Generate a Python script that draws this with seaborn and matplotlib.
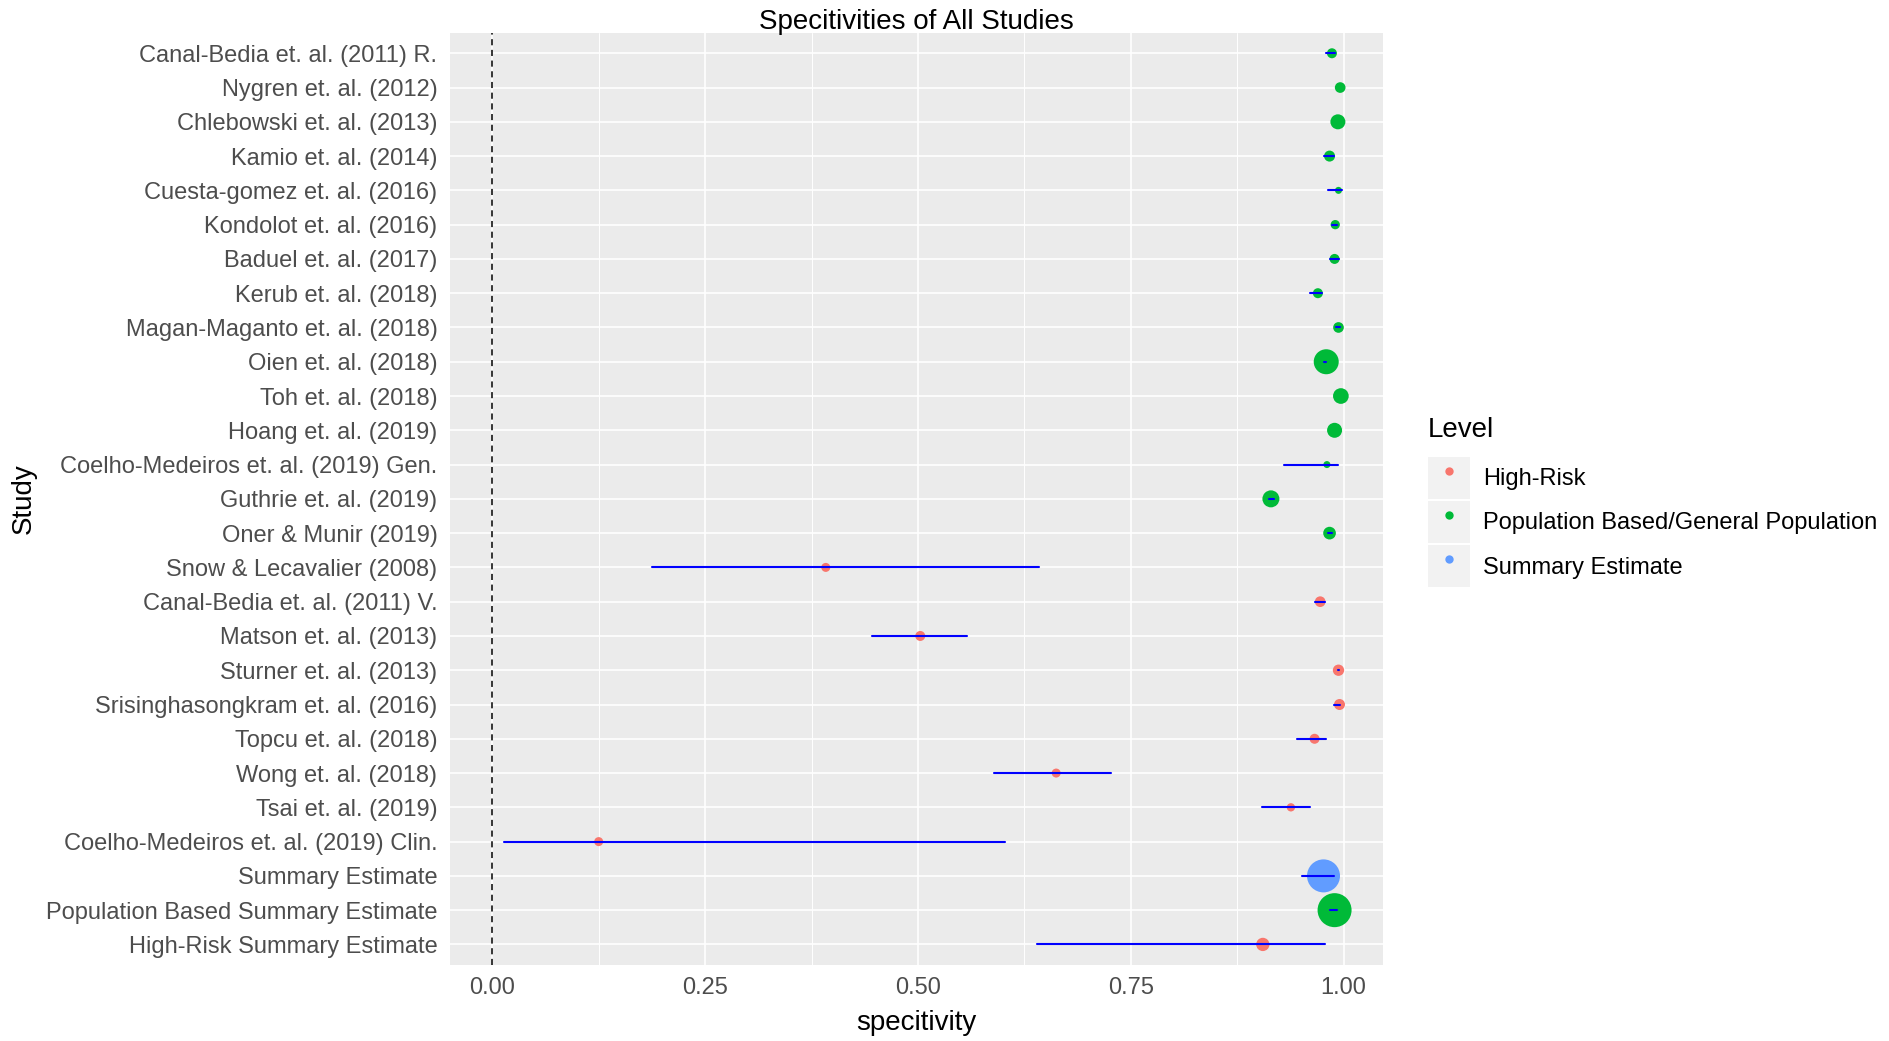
import matplotlib
matplotlib.use("Agg")
import matplotlib.pyplot as plt
from matplotlib.lines import Line2D
from matplotlib.patches import Rectangle
from matplotlib.legend_handler import HandlerTuple
import seaborn as sns
import pandas as pd

studies = [
    "Canal-Bedia et. al. (2011) R.", "Nygren et. al. (2012)", "Chlebowski et. al. (2013)",
    "Kamio et. al. (2014)", "Cuesta-gomez et. al. (2016)", "Kondolot et. al. (2016)",
    "Baduel et. al. (2017)", "Kerub et. al. (2018)", "Magan-Maganto et. al. (2018)",
    "Oien et. al. (2018)", "Toh et. al. (2018)", "Hoang et. al. (2019)",
    "Coelho-Medeiros et. al. (2019) Gen.", "Guthrie et. al. (2019)", "Oner & Munir (2019)",
    "Snow & Lecavalier (2008)", "Canal-Bedia et. al. (2011) V.", "Matson et. al. (2013)",
    "Sturner et. al. (2013)", "Srisinghasongkram et. al. (2016)", "Topcu et. al. (2018)",
    "Wong et. al. (2018)", "Tsai et. al. (2019)", "Coelho-Medeiros et. al. (2019) Clin.",
    "Summary Estimate", "Population Based Summary Estimate", "High-Risk Summary Estimate",
]
specificity = [0.9864, 0.9961, 0.9934, 0.9836, 0.9941, 0.9903, 0.9895, 0.9699, 0.9941,
               0.9797, 0.9969, 0.9895, 0.9805, 0.9147, 0.9836,
               0.3917, 0.9726, 0.5027, 0.9941, 0.9953, 0.9660, 0.6624, 0.9382, 0.1249,
               0.9765, 0.9895, 0.9052]
lower = [0.9797, 0.9955, 0.9930, 0.9773, 0.9812, 0.9864, 0.9836, 0.9610, 0.9910,
         0.9773, 0.9966, 0.9900, 0.9295, 0.9120, 0.9815,
         0.1879, 0.9660, 0.4456, 0.9930, 0.9883, 0.9452, 0.5890, 0.9048, 0.0134,
         0.9518, 0.9836, 0.6400]
upper = [0.9903, 0.9962, 0.9936, 0.9883, 0.9981, 0.9923, 0.9946, 0.9746, 0.9960,
         0.9790, 0.9970, 0.9905, 0.9941, 0.9180, 0.9865,
         0.6421, 0.9777, 0.5576, 0.9945, 0.9953, 0.9789, 0.7274, 0.9609, 0.6025,
         0.9894, 0.9922, 0.9785]
level = (["Population Based/General Population"] * 15 + ["High-Risk"] * 9 +
         ["Summary Estimate", "Population Based/General Population", "High-Risk"])
weight = [100, 114, 225, 121, 49, 86, 100, 100, 114, 625, 246, 225, 49, 289, 161,
          81, 114, 100, 128, 121, 100, 81, 69, 81, 1089, 1156, 177]
level_names = ["High-Risk", "Population Based/General Population", "Summary Estimate"]
level_colors = ["#F8766D", "#00BA38", "#619CFF"]
x_ticks = [0.00, 0.25, 0.50, 0.75, 1.00]
x_tick_labels = ["0.00", "0.25", "0.50", "0.75", "1.00"]

df = pd.DataFrame({"study": studies, "specitivity": specificity, "lower": lower,
                   "upper": upper, "Level": level, "weight": weight})

sns.set_theme(style="white")
plt.rcParams["font.family"] = ["Liberation Sans", "DejaVu Sans"]

W, H = 1890, 1041
fig = plt.figure(figsize=(W / 100, H / 100), dpi=100)
ax = fig.add_axes([450 / W, 1 - 965 / H, 933 / W, (965 - 32.7) / H])
ax.set_facecolor("#EBEBEB")

palette = dict(zip(level_names, level_colors))
px2 = 0.72 ** 2
sns.scatterplot(data=df, x="specitivity", y="study", hue="Level", size="weight",
                sizes=(0, 1200 * px2), size_norm=(0, 1200), palette=palette,
                linewidth=0, legend=False, ax=ax, zorder=3, alpha=1)
lc = ax.hlines(df["study"], df["lower"], df["upper"], colors="#0000FF",
               linewidth=1.5, zorder=4)
lc.set_capstyle("round")
ax.axvline(0, color="black", linewidth=1.1, linestyle=(0, (4, 3)), zorder=2.5)

ax.set_xlim(-0.0498, 1.0464)
ax.set_ylim(len(studies) - 1 + 0.6, -0.6)
ax.set_xticks(x_ticks)
ax.set_xticklabels(x_tick_labels)
ax.set_xticks([0.125, 0.375, 0.625, 0.875], minor=True)
ax.grid(True, which="major", color="white", linewidth=1.2)
ax.grid(True, which="minor", axis="x", color="white", linewidth=0.7)
ax.set_axisbelow(True)
for s in ax.spines.values():
    s.set_visible(False)
ax.tick_params(axis="both", which="major", length=5, width=1.0, color="#333333",
               labelcolor="#4D4D4D", labelsize=17, pad=4)
ax.tick_params(axis="both", which="minor", length=0)

ax.set_xlabel("specitivity", fontsize=20, color="black", va="center")
ax.xaxis.set_label_coords(0.5, (965 - 1023.5) / 932.3)
ax.set_ylabel("Study", fontsize=20, color="black", va="center")
ax.yaxis.set_label_coords((24 - 450) / 933, 0.5)
fig.text(916.5 / W, 1 - 22 / H, "Specitivities of All Studies", fontsize=20,
         ha="center", va="center", color="black")

fig.text(1428 / W, 1 - 430 / H, "Level", fontsize=20, ha="left", va="center",
         color="black")
handles = []
for name, col in zip(level_names, level_colors):
    box = Rectangle((0, 0), 1, 1, facecolor="#F2F2F2", edgecolor="none")
    dot = Line2D([], [], marker="o", linestyle="none", markersize=6,
                 markerfacecolor=col, markeredgewidth=0)
    handles.append((box, dot))
leg = fig.legend(handles, level_names, handler_map={tuple: HandlerTuple(ndivide=1, pad=0)},
                 loc="upper left", bbox_to_anchor=(1428 / W, 1 - 457 / H),
                 frameon=False, fontsize=17,
                 handlelength=1.78, handleheight=2.36, handletextpad=0.55,
                 labelspacing=0.09, borderpad=0, borderaxespad=0)
for t in leg.get_texts():
    t.set_color("black")

fig.savefig("out.png", dpi=100)
